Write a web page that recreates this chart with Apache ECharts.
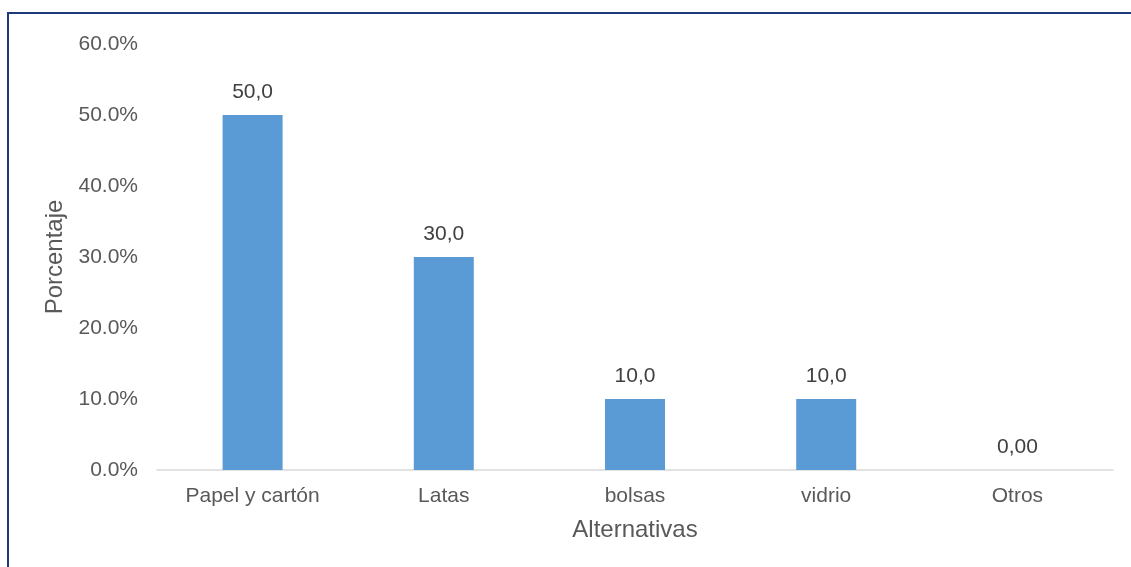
<!DOCTYPE html>
<html>
<head>
<meta charset="utf-8">
<script src="https://cdn.jsdelivr.net/npm/echarts@6/dist/echarts.min.js"></script>
<style>
  html, body { margin: 0; padding: 0; background: #ffffff; }
  #chart { width: 1131px; height: 567px; }
</style>
</head>
<body>
<div id="chart"></div>
<script>
// Material categories and their share (%)
const categories = ['Papel y cartón', 'Latas', 'bolsas', 'vidrio', 'Otros'];
const percentages = [50.0, 30.0, 10.0, 10.0, 0.0];
const valueLabels = ['50,0', '30,0', '10,0', '10,0', '0,00'];
const yTicks = { min: 0, max: 60, interval: 10 };

const FONT = '"Liberation Sans", Arial, sans-serif';

const chart = echarts.init(document.getElementById('chart'), null, { renderer: 'canvas' });

chart.setOption({
  animation: false,
  backgroundColor: '#ffffff',
  textStyle: { fontFamily: FONT },
  graphic: [{
    type: 'rect',
    shape: { x: 8, y: 13, width: 1140, height: 600 },
    style: { fill: 'none', stroke: '#1f3a78', lineWidth: 2 },
    z: 100
  }],
  grid: { left: 157, right: 18, top: 44, bottom: 97, containLabel: false },
  xAxis: {
    type: 'category',
    data: categories,
    name: 'Alternativas',
    nameLocation: 'middle',
    nameGap: 48,
    nameTextStyle: { fontSize: 24, color: '#595959', fontFamily: FONT },
    axisLine: { show: true, lineStyle: { color: '#d9d9d9', width: 1.5 } },
    axisTick: { show: false },
    axisLabel: { fontSize: 21, color: '#595959', margin: 16, fontFamily: FONT },
    splitLine: { show: false }
  },
  yAxis: {
    type: 'value',
    min: yTicks.min,
    max: yTicks.max,
    interval: yTicks.interval,
    name: 'Porcentaje',
    nameLocation: 'middle',
    nameGap: 90,
    nameRotate: 90,
    nameTextStyle: { fontSize: 24, color: '#595959', fontFamily: FONT },
    axisLine: { show: false },
    axisTick: { show: false },
    splitLine: { show: false },
    axisLabel: {
      fontSize: 21,
      color: '#595959',
      margin: 19,
      fontFamily: FONT,
      formatter: v => v.toFixed(1) + '%'
    }
  },
  series: [{
    type: 'bar',
    data: percentages,
    barWidth: 60,
    itemStyle: { color: '#5b9bd5' },
    label: {
      show: true,
      position: 'top',
      distance: 12,
      fontSize: 21,
      color: '#404040',
      fontFamily: FONT,
      formatter: p => valueLabels[p.dataIndex]
    }
  }]
});
</script>
</body>
</html>
